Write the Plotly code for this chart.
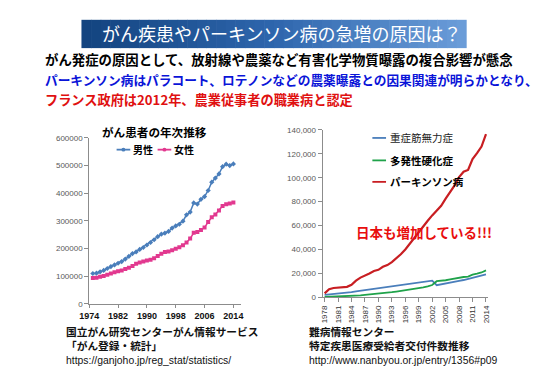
import plotly.graph_objects as go

W, H = 547, 379

# ---------------- data ----------------
cancer_years = list(range(1975, 2015))
male = [110000, 111000, 116000, 121000, 128000, 135000, 141000, 147000, 153000, 162000,
        172000, 182000, 188000, 197000, 204000, 213000, 222000, 232000, 243000, 252000,
        256000, 262000, 274000, 282000, 288000, 299000, 322000, 332000, 365000, 361000,
        378000, 388000, 410000, 440000, 455000, 470000, 496000, 505000, 500000, 506000]
female = [94000, 95000, 98000, 101000, 105000, 110000, 114000, 118000, 121000, 126000,
          131000, 137000, 145000, 150000, 153000, 157000, 160000, 165000, 173000, 181000,
          188000, 189000, 194000, 199000, 205000, 212000, 222000, 236000, 257000, 260000,
          267000, 276000, 296000, 313000, 323000, 338000, 354000, 360000, 363000, 367000]
cancer_xticks = [1974, 1982, 1990, 1998, 2006, 2014]
cancer_yticks = [0, 100000, 200000, 300000, 400000, 500000, 600000]

nanbyo_years = list(range(1978, 2015))
parkinson = [3300, 6800, 7800, 8000, 8200, 8800, 10500, 14000, 16500, 18000,
             20000, 22000, 23000, 25500, 27000, 29500, 32500, 36000, 40000, 45000,
             49000, 54000, 59000, 64000, 68500, 72500, 76500, 82500, 88000, 93500,
             100500, 105000, 106500, 115500, 120500, 126000, 136500]
myasthenia = [2000, 2400, 2700, 2900, 3100, 3400, 4300, 5000, 5500, 6000,
              6500, 7000, 7500, 8000, 8500, 9200, 9800, 10400, 11000, 11600,
              12100, 12600, 13100, 13600, 14000, 10200, 10800, 11500, 12200, 13000,
              13800, 14500, 15400, 16400, 17400, 18300, 19300]
ms = [300, 400, 500, 600, 700, 900, 1100, 1400, 1700, 2000,
      2300, 2600, 3000, 3400, 3800, 4300, 4800, 5300, 5800, 6400,
      7000, 7600, 8300, 9200, 10300, 13500, 13600, 14300, 15000, 15800,
      16800, 17000, 17400, 19000, 19800, 20800, 22500]
nanbyo_xticks = list(range(1978, 2015, 3))
nanbyo_yticks = [0, 20000, 40000, 60000, 80000, 100000, 120000, 140000]

names_cancer = ["男性", "女性"]
names_nanbyo = ["重症筋無力症", "多発性硬化症", "パーキンソン病"]

# ---------------- style ----------------
C_MALE = "#4A7EBB"
C_FEMALE = "#E2388F"
C_MG = "#4A7EBB"
C_MS = "#1FA24A"
C_PD = "#C81E22"
JP = "Noto Sans CJK JP"
AX = "Liberation Sans"


def px(x):
    return x / W


def py(y):
    return 1 - y / H


fig = go.Figure()

fig.add_trace(go.Scatter(x=cancer_years, y=male, name=names_cancer[0], mode="lines+markers",
                         line=dict(color=C_MALE, width=1.5),
                         marker=dict(size=4, symbol="diamond", color=C_MALE),
                         xaxis="x", yaxis="y", showlegend=False))
fig.add_trace(go.Scatter(x=cancer_years, y=female, name=names_cancer[1], mode="lines+markers",
                         line=dict(color=C_FEMALE, width=1.5),
                         marker=dict(size=4, symbol="square", color=C_FEMALE),
                         xaxis="x", yaxis="y", showlegend=False))

fig.add_trace(go.Scatter(x=nanbyo_years, y=myasthenia, name=names_nanbyo[0], mode="lines",
                         line=dict(color=C_MG, width=1.8),
                         xaxis="x2", yaxis="y2", showlegend=False))
fig.add_trace(go.Scatter(x=nanbyo_years, y=ms, name=names_nanbyo[1], mode="lines",
                         line=dict(color=C_MS, width=1.8),
                         xaxis="x2", yaxis="y2", showlegend=False))
fig.add_trace(go.Scatter(x=nanbyo_years, y=parkinson, name=names_nanbyo[2], mode="lines",
                         line=dict(color=C_PD, width=2.2),
                         xaxis="x2", yaxis="y2", showlegend=False))

axis_common = dict(showgrid=False, zeroline=False, showline=True, linecolor="#8C8C8C",
                   linewidth=1, ticks="outside", tickcolor="#8C8C8C")

fig.update_layout(
    width=W, height=H,
    margin=dict(l=0, r=0, t=0, b=0),
    paper_bgcolor="white", plot_bgcolor="white",
    showlegend=False,
    xaxis=dict(domain=[px(73), px(228)], range=[1974, 2016], tickvals=cancer_xticks,
               tickfont=dict(family=AX, size=9, color="#111111", weight="bold"),
               anchor="y", ticklen=3, **axis_common),
    yaxis=dict(domain=[py(299), py(129)], range=[0, 600000], tickvals=cancer_yticks,
               tickformat="d", tickfont=dict(family=AX, size=8, color="#595959"),
               anchor="x", ticklen=4, **axis_common),
    xaxis2=dict(domain=[px(312), px(481)], range=[1977.55, 2014.35], tickvals=nanbyo_xticks,
                tickangle=-90, tickfont=dict(family=AX, size=8, color="#333333"),
                anchor="y2", ticklen=4, **axis_common),
    yaxis2=dict(domain=[py(292.3), py(120.7)], range=[0, 140000], tickvals=nanbyo_yticks,
                tickformat=",d", tickfont=dict(family=AX, size=8, color="#595959"),
                anchor="x2", ticklen=4, **axis_common),
)

shapes = []
# banner gradient
x0b, x1b, y0b, y1b = 65, 459, 8, 37
n = 40


def lerp(a, b, t):
    return int(round(a + (b - a) * t))


c0 = (0x13, 0x44, 0x80)
c1 = (0x2E, 0x66, 0xAD)
c2 = (0x6A, 0x9C, 0xD8)
for i in range(n):
    t = i / (n - 1)
    if t < 0.5:
        tt = t / 0.5
        c = tuple(lerp(c0[k], c1[k], tt) for k in range(3))
    else:
        tt = (t - 0.5) / 0.5
        c = tuple(lerp(c1[k], c2[k], tt) for k in range(3))
    xa = x0b + (x1b - x0b) * i / n
    xb = x0b + (x1b - x0b) * (i + 1) / n + 0.6
    shapes.append(dict(type="rect", xref="paper", yref="paper", x0=px(xa), x1=px(xb),
                       y0=py(y1b), y1=py(y0b), line=dict(width=0),
                       fillcolor="rgb(%d,%d,%d)" % c, layer="below"))


# manual legends
def leg_line(xa, xb, y, color, marker=None):
    shapes.append(dict(type="line", xref="paper", yref="paper", x0=px(xa), x1=px(xb),
                       y0=py(y), y1=py(y), line=dict(color=color, width=1.8)))
    if marker:
        xm = (xa + xb) / 2
        shapes.append(dict(type="circle", xref="paper", yref="paper",
                           x0=px(xm - 2), x1=px(xm + 2), y0=py(y + 2), y1=py(y - 2),
                           fillcolor=color, line=dict(width=0)))


leg_line(101, 115, 141, C_MALE, True)
leg_line(143, 157, 141, C_FEMALE, True)
leg_line(363, 377, 129, C_MG)
leg_line(363, 377, 152, C_MS)
leg_line(363, 377, 174, C_PD)

fig.update_layout(shapes=shapes)


def txt(x, y, s, size, color="#000000", bold=False, xanchor="left", family=JP):
    fig.add_annotation(x=px(x), y=py(y), xref="paper", yref="paper", text=s,
                       showarrow=False, xanchor=xanchor, yanchor="middle",
                       font=dict(family=family, size=size, color=color,
                                 weight="bold" if bold else "normal"))


txt(270, 22, "がん疾患やパーキンソン病の急増の原因は？", 18, "white", False, "center")
txt(26, 48, "がん発症の原因として、放射線や農薬など有害化学物質曝露の複合影響が懸念", 13.4, "#000000", True)
txt(26, 69, "パーキンソン病はパラコート、ロテノンなどの農薬曝露との因果関連が明らかとなり、", 12.7, "#0A14D8", True)
txt(26, 90, "フランス政府は2012年、農業従事者の職業病と認定", 13.2, "#E01010", True)

txt(140, 123, "がん患者の年次推移", 11.6, "#000000", True, "center")
txt(116, 141, names_cancer[0], 10, "#000000", True)
txt(158, 141, names_cancer[1], 10, "#000000", True)

txt(379, 129, names_nanbyo[0], 10.5, "#222222", False)
txt(379, 152, names_nanbyo[1], 10.5, "#000000", True)
txt(379, 174, names_nanbyo[2], 10.5, "#000000", True)

txt(416, 225, "日本も増加している!!!", 13.5, "#E80E0E", True, "center")

txt(47, 327, "国立がん研究センターがん情報サービス", 10.7, "#111111", True)
txt(47, 342, "「がん登録・統計」", 10.7, "#111111", True)
txt(47, 357, "https://ganjoho.jp/reg_stat/statistics/", 10.4, "#111111", False, family=AX)

txt(296, 327, "難病情報センター", 10.7, "#111111", True)
txt(296, 342, "特定疾患医療受給者交付件数推移", 10.7, "#111111", True)
txt(296, 357, "http://www.nanbyou.or.jp/entry/1356#p09", 10.4, "#111111", False, family=AX)

fig.write_html("out.html")
